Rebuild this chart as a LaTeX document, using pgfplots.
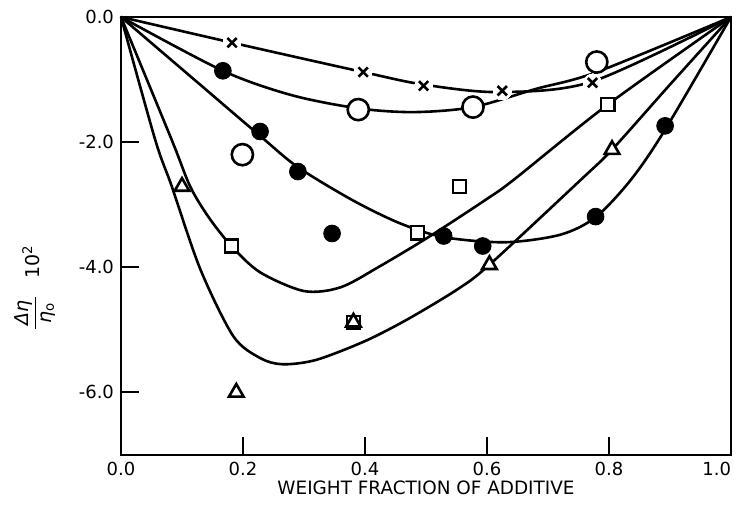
\documentclass[border=0pt]{standalone}
\usepackage{pgfplots}
\pgfplotsset{compat=1.18}
\usepackage{fontspec}
\setmainfont{DejaVu Sans}

\begin{document}
\begin{tikzpicture}
\useasboundingbox (-60.5pt,-31pt) rectangle (306.5pt,227.5pt);
\begin{axis}[
  scale only axis, width=305pt, height=219pt,
  xmin=0, xmax=1, ymin=-7, ymax=0,
  xtick={0,0.2,0.4,0.6,0.8,1},
  xticklabels={0.0,0.2,0.4,0.6,0.8,1.0\hphantom{1.0}},
  ytick={0,-2,-4,-6},
  yticklabels={0.0,-2.0,-4.0,-6.0},
  tick align=inside, xtick pos=left, ytick pos=left,
  major tick length=9pt,
  axis line style={line width=1pt},
  every tick/.style={black, line width=1pt},
  ticklabel style={font=\fontsize{9}{10}\selectfont},
  xlabel={WEIGHT FRACTION OF ADDITIVE},
  xlabel style={font=\fontsize{9.2}{11}\selectfont, at={(axis description cs:0.5,0)}, anchor=center, yshift=-16.5pt},
  ylabel={$\displaystyle\frac{\mbox{\itshape\,Δη\,}}{\mbox{\itshape\,η\textsubscript{\upshape o}\,}}$\hspace{8pt}10\textsuperscript{2}},
  ylabel style={font=\fontsize{9.5}{11}\selectfont, at={(axis description cs:-0.141,0.381)}, anchor=center},
  clip=false,
]
% fitted curves
\addplot[smooth, line width=1.3pt] coordinates {(0,0) (0.182,-0.41) (0.397,-0.88) (0.496,-1.08) (0.62,-1.2) (0.773,-1.03) (1,0)};
\addplot[smooth, line width=1.3pt] coordinates {(0,0) (0.167,-0.86) (0.28,-1.25) (0.389,-1.46) (0.48,-1.52) (0.577,-1.44) (0.68,-1.15) (0.78,-0.88) (1,0)};
\addplot[smooth, line width=1.3pt] coordinates {(0,0) (0.12,-1.0) (0.228,-1.9) (0.29,-2.4) (0.38,-2.93) (0.458,-3.3) (0.53,-3.52) (0.63,-3.6) (0.72,-3.48) (0.778,-3.2) (0.836,-2.6) (0.892,-1.8) (1,0)};
\addplot[smooth, line width=1.3pt] coordinates {(0,0) (0.083,-1.96) (0.113,-2.7) (0.143,-3.19) (0.181,-3.66) (0.228,-4.08) (0.3,-4.38) (0.36,-4.32) (0.425,-3.98) (0.507,-3.5) (0.598,-2.92) (0.644,-2.6) (0.798,-1.4) (1,0)};
\addplot[smooth, line width=1.3pt] coordinates {(0,0) (0.056,-1.96) (0.083,-2.7) (0.13,-4.03) (0.184,-5.1) (0.228,-5.45) (0.265,-5.55) (0.32,-5.48) (0.4,-5.18) (0.47,-4.83) (0.552,-4.35) (0.604,-3.96) (0.754,-2.6) (0.805,-2.12) (0.9,-1.08) (1,0)};
% crosses
\addplot[only marks, mark=*, mark size=4.5pt, mark options={fill=white, draw=white, line width=0pt}] coordinates {(0.182,-0.41) (0.397,-0.88) (0.496,-1.10) (0.625,-1.18) (0.773,-1.05)};
\addplot[only marks, mark=x, mark size=3.3pt, mark options={line width=1.3pt}] coordinates {(0.182,-0.41) (0.397,-0.88) (0.496,-1.10) (0.625,-1.18) (0.773,-1.05)};
% open circles
\addplot[only marks, mark=*, mark size=5.3pt, mark options={fill=white, draw=black, line width=1.3pt}] coordinates {(0.199,-2.2) (0.389,-1.48) (0.577,-1.44) (0.780,-0.72)};
% filled circles
\addplot[only marks, mark=*, mark size=4.2pt, mark options={fill=black}] coordinates {(0.167,-0.86) (0.228,-1.83) (0.29,-2.47) (0.346,-3.46) (0.529,-3.5) (0.593,-3.66) (0.778,-3.19) (0.892,-1.74)};
% squares
\addplot[only marks, mark=square*, mark size=3.3pt, mark options={fill=white, draw=black, line width=1.2pt}] coordinates {(0.181,-3.66) (0.381,-4.88) (0.486,-3.45) (0.555,-2.71) (0.798,-1.40)};
% triangles
\addplot[only marks, mark=triangle*, mark size=4.2pt, mark options={fill=white, draw=black, line width=1.3pt}] coordinates {(0.100,-2.71) (0.189,-6.0) (0.381,-4.88) (0.604,-3.96) (0.805,-2.12)};
\end{axis}
\end{tikzpicture}
\end{document}
